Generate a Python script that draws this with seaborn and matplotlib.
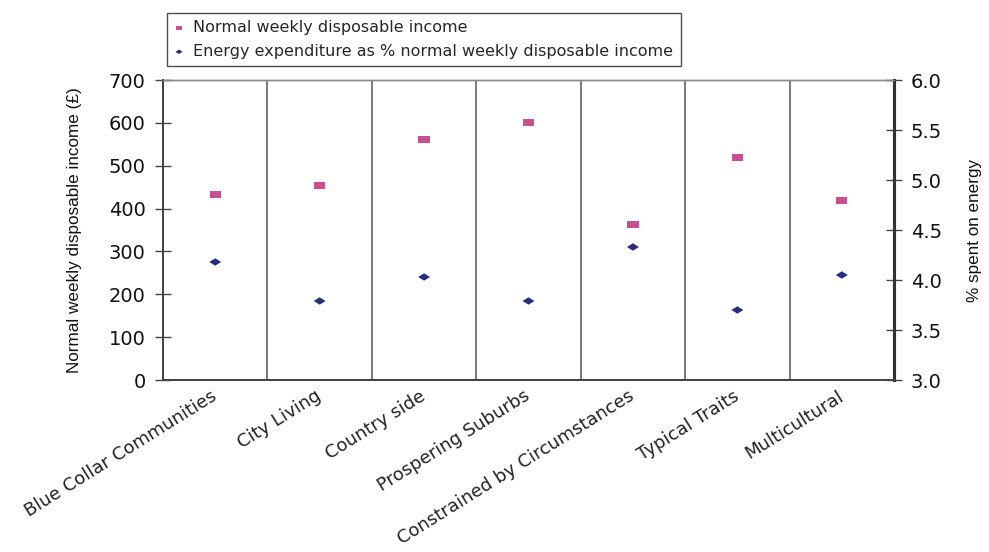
import numpy as np
import pandas as pd
import matplotlib
matplotlib.use("Agg")
import matplotlib.pyplot as plt
import seaborn as sns

# Segment data
segments = [
    "Blue Collar Communities",
    "City Living",
    "Country side",
    "Prospering Suburbs",
    "Constrained by Circumstances",
    "Typical Traits",
    "Multicultural",
]
weekly_income = [433, 453, 562, 600, 362, 520, 419]          # £ per week
energy_share = [4.18, 3.79, 4.03, 3.79, 4.33, 3.70, 4.05]     # % of income

income_label = "Normal weekly disposable income"
energy_label = "Energy expenditure as % normal weekly disposable income"

df = pd.DataFrame({
    "pos": np.arange(len(segments)),
    "segment": segments,
    "income": weekly_income,
    "energy": energy_share,
})

sns.set_style("white")
plt.rcParams["font.family"] = ["DejaVu Sans"]

PINK = "#C9508F"
NAVY = "#272C7E"
rect_marker = [(-1, -0.63), (1, -0.63), (1, 0.63), (-1, 0.63), (-1, -0.63)]
diamond_marker = [(-1, 0), (0, 0.62), (1, 0), (0, -0.62), (-1, 0)]

fig = plt.figure(figsize=(9.89, 5.52), dpi=100)
ax = fig.add_axes([163 / 989, 1 - 380 / 552, (894 - 163) / 989, 300 / 552])
ax2 = ax.twinx()

sns.scatterplot(data=df, x="pos", y="income", ax=ax, marker=rect_marker,
                s=66, color=PINK, edgecolor="none", linewidth=0,
                label=income_label, legend=False, zorder=3)
sns.scatterplot(data=df, x="pos", y="energy", ax=ax2, marker=diamond_marker,
                s=74, color=NAVY, edgecolor="none", linewidth=0,
                label=energy_label, legend=False, zorder=3)

n = len(segments)
ax.set_xlim(-0.5, n - 0.5)
ax.set_ylim(0, 700)
ax2.set_ylim(3, 6)
ax.set_yticks(np.arange(0, 701, 100))
ax2.set_yticks(np.arange(3.0, 6.01, 0.5))
ax2.set_yticklabels([f"{v:.1f}" for v in np.arange(3.0, 6.01, 0.5)])

# category labels at centres, separators at boundaries
ax.set_xticks(df["pos"])
ax.set_xticklabels(segments, rotation=32, ha="right", va="center",
                   rotation_mode="anchor", fontsize=13, color="#222222")
ax.set_xticks(np.arange(-0.5, n), minor=True)
ax.tick_params(axis="x", which="major", length=0, pad=10.5)
ax.tick_params(axis="x", which="minor", length=4, width=1.1,
               color="#444444", direction="out")
ax.grid(False)
ax2.grid(False)
ax.xaxis.grid(True, which="minor", color="#555555", linewidth=1.1)
ax.set_xlabel("")

ax.tick_params(axis="y", direction="inout", length=12, width=1.0,
               color="#444444", pad=6.5, labelsize=14, labelcolor="#111111")
ax2.tick_params(axis="y", direction="inout", length=12, width=1.0,
                color="#444444", pad=6, labelsize=14, labelcolor="#111111")

side_font = ["Liberation Sans", "DejaVu Sans"]
ax.set_ylabel("Normal weekly disposable income (£)", fontsize=12.3,
              family=side_font, color="#111111", labelpad=19)
ax2.set_ylabel("% spent on energy", fontsize=12.3, family=side_font,
               color="#111111", labelpad=18)

for a in (ax, ax2):
    a.spines["top"].set_color("#888888")
    a.spines["top"].set_linewidth(1.0)
    a.spines["left"].set_color("#444444")
    a.spines["left"].set_linewidth(1.3)
    a.spines["bottom"].set_color("#444444")
    a.spines["bottom"].set_linewidth(1.3)
    a.spines["right"].set_color("#333333")
    a.spines["right"].set_linewidth(2.2)

h1, l1 = ax.get_legend_handles_labels()
h2, l2 = ax2.get_legend_handles_labels()
fig.legend(h1 + h2, l1 + l2, loc="upper left",
           bbox_to_anchor=(167 / 989, 1 - 13 / 552),
           frameon=True, fancybox=False, edgecolor="#222222",
           fontsize=11.5, markerscale=0.6, handlelength=0.6,
           handletextpad=0.6, borderpad=0.45, labelspacing=0.55,
           borderaxespad=0)
leg = fig.legends[0]
leg.get_frame().set_linewidth(1.0)

fig.savefig("out.png", dpi=100)
